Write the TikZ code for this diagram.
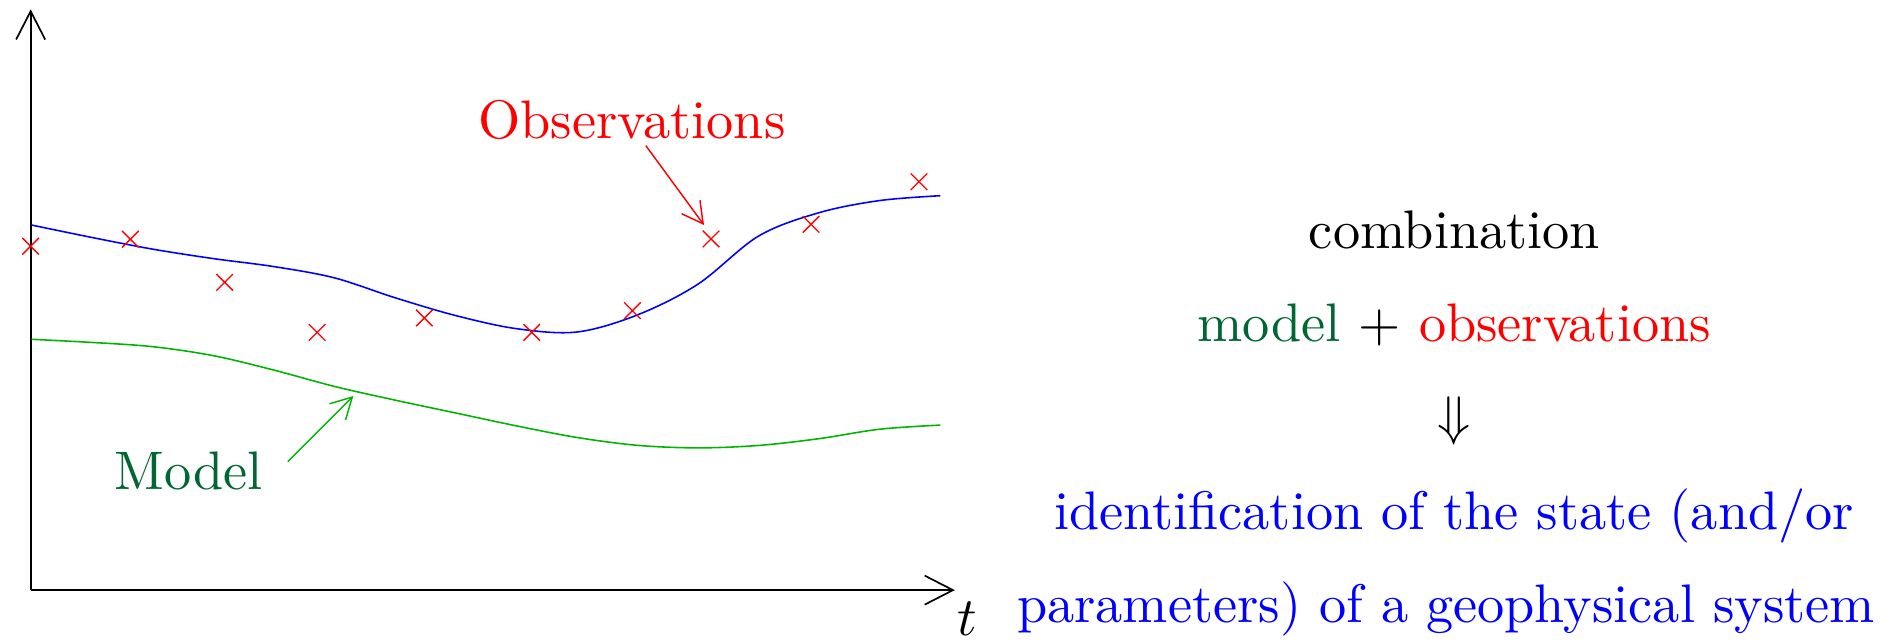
\documentclass[tikz,border=0pt]{standalone}
\usetikzlibrary{arrows.meta,shapes.misc}
\definecolor{modeltext}{RGB}{0,102,51}
\definecolor{modelcurve}{RGB}{0,180,0}
\newcommand{\bigtxt}[1]{\scalebox{2.24}{#1}}
\begin{document}
\begin{tikzpicture}[x=0.5pt,y=-0.5pt,
  every node/.style={font=\fontsize{10}{12}\selectfont, inner sep=0pt},
  axisline/.style={line width=0.7pt, -{Straight Barb[length=11.7pt,width=12pt,line width=0.7pt]}},
  labelarrow/.style={line width=0.6pt, -{Straight Barb[length=8.6pt,width=9.4pt,line width=0.6pt]}},
  curve/.style={line width=0.65pt, smooth, tension=0.55},
  obs/.style={cross out, draw=red, minimum size=6.3pt, line width=0.55pt, inner sep=0pt},
  txt/.style={anchor=base}]
\useasboundingbox (0,0) rectangle (1568,531);
% axes
\coordinate (origin) at (25.3,487);
\coordinate (ytip) at (25.3,7.7);
\coordinate (xtip) at (788,487);
\draw[axisline] (origin) -- (ytip);
\draw[axisline] (origin) -- (xtip);
\node[txt] (tlabel) at (798,524.5) {\bigtxt{$t$}};
% curves
\draw[blue, curve] plot coordinates {(26,185.7) (76,196) (126,205.6) (176,213.4) (226,220) (276,229.3) (326,245.7) (376,260.4) (426,271.2) (476,274) (526,259.9) (576,234.5) (626,194.8) (676,175.5) (726,165.5) (776,161.5)};
\draw[modelcurve, curve] plot coordinates {(26,280) (76,282.6) (126,286.1) (176,293.5) (226,305.4) (276,318.9) (326,330.2) (376,340.8) (426,351.4) (476,361) (526,367.5) (576,369.6) (626,367.6) (676,362) (726,354.2) (776,350.8)};
% observations
\node[obs] (o1) at (25.3,203.2) {};
\node[obs] (o2) at (107.6,197.4) {};
\node[obs] (o3) at (185.4,233) {};
\node[obs] (o4) at (261.7,274.3) {};
\node[obs] (o5) at (350.2,262.4) {};
\node[obs] (o6) at (438.8,274.3) {};
\node[obs] (o7) at (521.9,256.4) {};
\node[obs] (o8) at (586.8,197.2) {};
\node[obs] (o9) at (669.3,185.1) {};
\node[obs] (o10) at (758.4,150) {};
% labels
\node[txt, text=red] (obslabel) at (521.5,114.5) {\bigtxt{Observations}};
\coordinate (obsfrom) at (533,120.2);
\coordinate (obsto) at (581,185.7);
\draw[red, labelarrow] (obsfrom) -- (obsto);
\node[txt, text=modeltext] (modellabel) at (155.6,403.6) {\bigtxt{Model}};
\coordinate (modfrom) at (237.5,381);
\coordinate (modto) at (291.6,326.8);
\draw[modelcurve, labelarrow] (modfrom) -- (modto);
% right text
\node[txt] (comb) at (1200.3,205) {\bigtxt{combination}};
\node[txt] (sum) at (1200,282) {\bigtxt{\textcolor{modeltext}{model} + \textcolor{red}{observations}}};
\node (implies) at (1200,347) {\bigtxt{$\Downarrow$}};
\node[txt, text=blue] (id1) at (1200,436.6) {\bigtxt{identification of the state (and/or}};
\node[txt, text=blue] (id2) at (1193.4,513.6) {\bigtxt{parameters) of a geophysical system}};
\end{tikzpicture}
\end{document}
